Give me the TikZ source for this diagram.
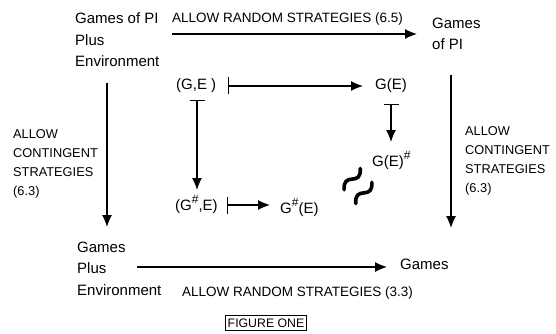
\documentclass[tikz,border=0pt]{standalone}
\usepackage{fontspec}
\setmainfont{Liberation Sans}
\usetikzlibrary{arrows.meta}
\begin{document}
\begin{tikzpicture}[x=1pt,y=-1pt,
  big/.style={font=\fontsize{15}{21.5}\selectfont, inner sep=0pt, align=left},
  lab/.style={font=\fontsize{13.5}{18.5}\selectfont, inner sep=0pt, align=left},
  side/.style={font=\fontsize{12.8}{18.8}\selectfont, inner sep=0pt, align=left},
  conn/.style={line width=1.2pt, -{Latex[length=12pt,width=10pt]}},
  mapsto/.style={line width=1.2pt, {Bar[width=17pt,line width=1.2pt]}-{Latex[length=12pt,width=10pt]}},
  tbar/.style={line width=1.2pt, {Bar[width=15pt,line width=1.2pt]}-{Latex[length=12pt,width=10pt]}},
  wave/.style={line width=3.6pt, line cap=round}
]
\useasboundingbox (0,0) rectangle (556,334);
\newcommand{\sh}{\raisebox{6.5pt}{\fontsize{12}{12}\selectfont\#}}
% text nodes (base anchor = baseline of last line)
\node[big, anchor=base west] (gpie) at (75,67) {Games of PI\\Plus\\Environment};
\node[big, anchor=base west] (gpi) at (432,50) {Games\\of PI};
\node[big, anchor=base west] (gpe) at (77,295) {Games\\Plus\\Environment};
\node[big, anchor=base west] (g) at (400,269) {Games};
\node[lab, anchor=base west] (lt) at (172,23) {ALLOW RANDOM STRATEGIES (6.5)};
\node[lab, anchor=base west] (lb) at (182,296) {ALLOW RANDOM STRATEGIES (3.3)};
\node[side, anchor=base west] (ll) at (13,195) {ALLOW\\CONTINGENT\\STRATEGIES\\(6.3)};
\node[side, anchor=base west] (lr) at (465,192) {ALLOW\\CONTINGENT\\STRATEGIES\\(6.3)};
\node[big, anchor=base west] (ge) at (176,90) {(G,E )};
\node[big, anchor=base west] (gE) at (375,90) {G(E)};
\node[big, anchor=base west] (gEs) at (372,166) {G(E)\sh};
\node[big, anchor=base west] (gse) at (175,210) {(G\sh,E)};
\node[big, anchor=base west] (gsE) at (280,213) {G\sh(E)};
\node[draw, line width=0.7pt, inner xsep=2pt, inner ysep=3pt, font=\fontsize{12.3}{12}\selectfont] (fig) at (266,323) {FIGURE ONE};
% arrow end points
\coordinate (a1) at (172,34);  \coordinate (a2) at (417,34);
\coordinate (b1) at (107,83);  \coordinate (b2) at (107,227);
\coordinate (c1) at (451,75);  \coordinate (c2) at (451,228);
\coordinate (d1) at (137,267); \coordinate (d2) at (387,267);
\coordinate (e1) at (228,86);  \coordinate (e2) at (363,86);
\coordinate (f1) at (197,100); \coordinate (f2) at (197,190);
\coordinate (h1) at (391,104); \coordinate (h2) at (391,142);
\coordinate (k1) at (227,205); \coordinate (k2) at (270,205);
% connectors
\draw[conn] (a1) -- (a2);
\draw[conn] (b1) -- (b2);
\draw[conn] (c1) -- (c2);
\draw[conn] (d1) -- (d2);
\draw[mapsto] (e1) -- (e2);
\draw[tbar] (f1) -- (f2);
\draw[tbar] (h1) -- (h2);
\draw[mapsto] (k1) -- (k2);
% approx symbol
\begin{scope}[shift={(358,186)}, x=1pt, y=1pt, rotate=40]
  \draw[wave] (-13,6) .. controls (-8,13) and (-4,12) .. (0,9) .. controls (4,6) and (8,5) .. (13,12);
  \draw[wave] (-13,-12) .. controls (-8,-5) and (-4,-6) .. (0,-9) .. controls (4,-12) and (8,-13) .. (13,-6);
\end{scope}
\end{tikzpicture}
\end{document}
